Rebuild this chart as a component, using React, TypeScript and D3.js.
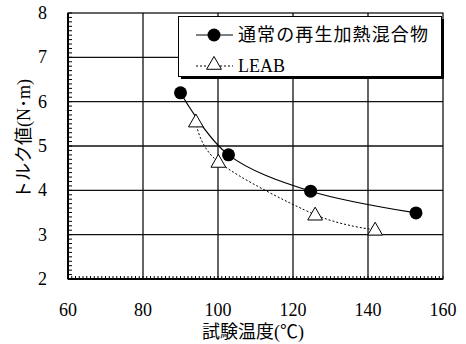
import React, { useEffect, useRef } from 'react';
import * as d3 from 'd3';

const tempRecycled = [90, 102.8, 124.7, 152.8];
const torqueRecycled = [6.2, 4.8, 3.98, 3.49];
const tempLeab = [94.1, 100.1, 125.9, 141.9];
const torqueLeab = [5.55, 4.64, 3.45, 3.11];
const xTicks = [60, 80, 100, 120, 140, 160];
const yTicks = [2, 3, 4, 5, 6, 7, 8];
const seriesNames = ['通常の再生加熱混合物', 'LEAB'];

const W = 466;
const H = 344;
const serif = '"Liberation Serif", "Times New Roman", "Noto Sans CJK JP", serif';

export default function App() {
  const svgRef = useRef<SVGSVGElement>(null);

  useEffect(() => {
    const svg = d3.select(svgRef.current);
    svg.selectAll('*').remove();

    const margin = { top: 13, right: 23, bottom: 65, left: 68 };
    const x = d3.scaleLinear().domain([60, 160]).range([margin.left, W - margin.right]);
    const y = d3.scaleLinear().domain([2, 8]).range([H - margin.bottom, margin.top]);

    svg.append('rect').attr('width', W).attr('height', H).attr('fill', '#fff');

    // grid
    const grid = svg.append('g').attr('stroke', '#111').attr('stroke-width', 1.3);
    xTicks.slice(1, -1).forEach(t => {
      grid.append('line')
        .attr('x1', x(t)).attr('x2', x(t))
        .attr('y1', y(8)).attr('y2', y(2));
    });
    yTicks.slice(1, -1).forEach(t => {
      grid.append('line')
        .attr('x1', x(60)).attr('x2', x(160))
        .attr('y1', y(t)).attr('y2', y(t));
    });

    // minor ticks (inside)
    const minor = svg.append('g').attr('stroke', '#000').attr('stroke-width', 1);
    d3.range(60, 160.01, 1).forEach(t => {
      minor.append('line')
        .attr('x1', x(t)).attr('x2', x(t))
        .attr('y1', y(2)).attr('y2', y(2) - 3);
    });
    d3.range(2, 8.001, 0.1).forEach(t => {
      minor.append('line')
        .attr('x1', x(60)).attr('x2', x(60) + 4)
        .attr('y1', y(t)).attr('y2', y(t));
    });

    // frame
    svg.append('rect')
      .attr('x', x(60)).attr('y', y(8))
      .attr('width', x(160) - x(60)).attr('height', y(2) - y(8))
      .attr('fill', 'none').attr('stroke', '#000').attr('stroke-width', 1.2);
    svg.append('line')
      .attr('x1', x(60)).attr('x2', x(60)).attr('y1', y(8)).attr('y2', y(2))
      .attr('stroke', '#000').attr('stroke-width', 2);
    svg.append('line')
      .attr('x1', x(60)).attr('x2', x(160)).attr('y1', y(2)).attr('y2', y(2))
      .attr('stroke', '#000').attr('stroke-width', 2);

    // tick labels
    svg.append('g').selectAll('text').data(xTicks).join('text')
      .attr('x', d => x(d)).attr('y', 316)
      .attr('text-anchor', 'middle')
      .attr('font-family', serif).attr('font-size', 18)
      .text(d => d);
    svg.append('g').selectAll('text').data(yTicks).join('text')
      .attr('x', 47).attr('y', d => y(d) + 6)
      .attr('text-anchor', 'end')
      .attr('font-family', serif).attr('font-size', 18)
      .text(d => d);

    // axis titles
    svg.append('text')
      .attr('x', 253).attr('y', 338)
      .attr('text-anchor', 'middle')
      .attr('font-family', serif).attr('font-size', 18)
      .text('試験温度(℃)');
    svg.append('text')
      .attr('transform', 'translate(30,139) rotate(-90)')
      .attr('text-anchor', 'middle')
      .attr('font-family', serif).attr('font-size', 18)
      .text('トルク値(N･m)');

    // series lines
    const ptsA = tempRecycled.map((t, i) => [x(t), y(torqueRecycled[i])] as [number, number]);
    const ptsB = tempLeab.map((t, i) => [x(t), y(torqueLeab[i])] as [number, number]);
    const smooth = d3.line().curve(d3.curveCardinal.tension(0));
    svg.append('path').attr('d', smooth(ptsB)).attr('fill', 'none')
      .attr('stroke', '#000').attr('stroke-width', 1).attr('stroke-dasharray', '2,2');
    svg.append('path').attr('d', smooth(ptsA)).attr('fill', 'none')
      .attr('stroke', '#000').attr('stroke-width', 1.2);

    const tri = d3.symbol().type(d3.symbolTriangle).size(95);
    svg.append('g').selectAll('path').data(ptsB).join('path')
      .attr('transform', d => `translate(${d[0]},${d[1] + 1})`)
      .attr('d', tri()).attr('fill', '#fff').attr('stroke', '#000').attr('stroke-width', 1);
    svg.append('g').selectAll('circle').data(ptsA).join('circle')
      .attr('cx', d => d[0]).attr('cy', d => d[1]).attr('r', 6.5).attr('fill', '#000');

    // legend
    const lg = svg.append('g');
    lg.append('rect').attr('x', 181).attr('y', 19).attr('width', 263).attr('height', 60).attr('fill', '#000');
    lg.append('rect').attr('x', 178.5).attr('y', 16.5).attr('width', 263).attr('height', 60)
      .attr('fill', '#fff').attr('stroke', '#000').attr('stroke-width', 1);
    lg.append('line').attr('x1', 196).attr('x2', 233).attr('y1', 35).attr('y2', 35)
      .attr('stroke', '#000').attr('stroke-width', 1.2);
    lg.append('circle').attr('cx', 214).attr('cy', 35).attr('r', 6.5).attr('fill', '#000');
    lg.append('line').attr('x1', 196).attr('x2', 233).attr('y1', 66).attr('y2', 66)
      .attr('stroke', '#000').attr('stroke-width', 1).attr('stroke-dasharray', '2,2');
    lg.append('path').attr('transform', 'translate(214,65)')
      .attr('d', tri()).attr('fill', '#fff').attr('stroke', '#000');
    lg.selectAll('text.lbl').data(seriesNames).join('text')
      .attr('x', 238).attr('y', (d, i) => 41 + i * 31)
      .attr('font-family', serif).attr('font-size', 18)
      .attr('letter-spacing', (d, i) => (i === 0 ? 1.1 : 0))
      .text(d => d);
  }, []);

  return (
    <svg ref={svgRef} width={W} height={H}
      style={{ position: 'absolute', left: 0, top: 0, display: 'block' }} />
  );
}
